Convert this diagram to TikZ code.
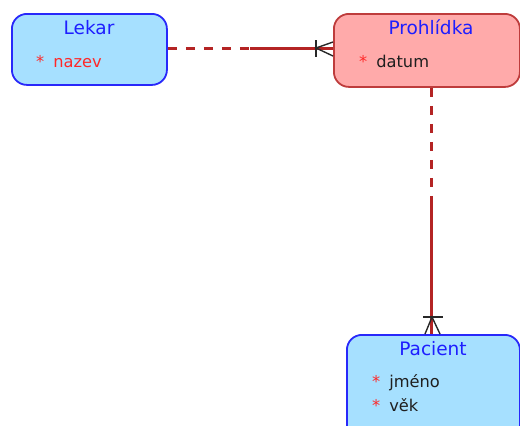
\documentclass[tikz,border=0pt]{standalone}
\usepackage{fontspec}
\setmainfont{DejaVu Sans}
\definecolor{entblue}{RGB}{40,40,250}
\definecolor{entbluefill}{RGB}{166,224,255}
\definecolor{entred}{RGB}{190,60,60}
\definecolor{entredfill}{RGB}{255,170,170}
\definecolor{titleblue}{RGB}{30,30,255}
\definecolor{starred}{RGB}{255,40,40}
\definecolor{relred}{RGB}{180,36,36}
\definecolor{footgrey}{RGB}{40,40,40}
\begin{document}
\begin{tikzpicture}[x=1bp,y=-1bp,
  entity/.style={line width=1.8bp, rounded corners=15bp, anchor=north west,
    inner sep=0pt, rectangle},
  blueent/.style={entity, draw=entblue, fill=entbluefill},
  redent/.style={entity, draw=entred, fill=entredfill},
  etitle/.style={anchor=base, inner sep=0pt, text=titleblue,
    font=\fontsize{18.6}{20}\selectfont},
  attr/.style={anchor=base west, inner sep=0pt, text=black!88,
    font=\fontsize{16.3}{18}\selectfont},
  rel/.style={draw=relred, line width=3bp},
  reldash/.style={rel, dash pattern=on 9bp off 9bp},
  foot/.style={draw=footgrey, line width=1.4bp}
]
\useasboundingbox (0,0) rectangle (520,425);

% entities
\node[blueent, minimum width=155bp, minimum height=71bp] (lekar) at (11,13) {};
\node[redent, minimum width=186bp, minimum height=73bp] (prohl) at (333,13) {};
\node[blueent, minimum width=173bp, minimum height=110bp] (pacient) at (346,334) {};

% titles and attributes
\node[etitle] (tlekar) at (89,34) {Lekar};
\node[attr, text=starred] (alekar) at (36,67) {*\hspace{9bp}nazev};
\node[etitle] (tprohl) at (431,34) {Prohlídka};
\node[attr] (aprohl) at (359,67) {\textcolor{starred}{*}\hspace{9bp}datum};
\node[etitle] (tpacient) at (433,355) {Pacient};
\node[attr] (apac1) at (372,387) {\textcolor{starred}{*}\hspace{9bp}jméno};
\node[attr] (apac2) at (372,411) {\textcolor{starred}{*}\hspace{9bp}věk};

% Lekar -- Prohlidka relationship
\coordinate (h0) at (lekar.east |- 0,48);
\coordinate (h1) at (250,48);
\coordinate (h2) at (prohl.west |- 0,48);
\draw[reldash] (h0) -- (h1);
\draw[rel] (h1) -- (h2);
\coordinate (hf) at (316,48);
\draw[foot] (316,40) -- (316,57);
\draw[foot] (333,42) -- (hf) -- (333,56);

% Prohlidka -- Pacient relationship
\coordinate (v0) at (431,0 |- prohl.south);
\coordinate (v1) at (431,205);
\coordinate (v2) at (431,0 |- pacient.north);
\draw[reldash] (v0) -- (v1);
\draw[rel] (v1) -- (v2);
\coordinate (vf) at (432,317);
\draw[foot] (423,317) -- (443,317);
\draw[foot] (425,334) -- (vf) -- (440,334);
\end{tikzpicture}
\end{document}
